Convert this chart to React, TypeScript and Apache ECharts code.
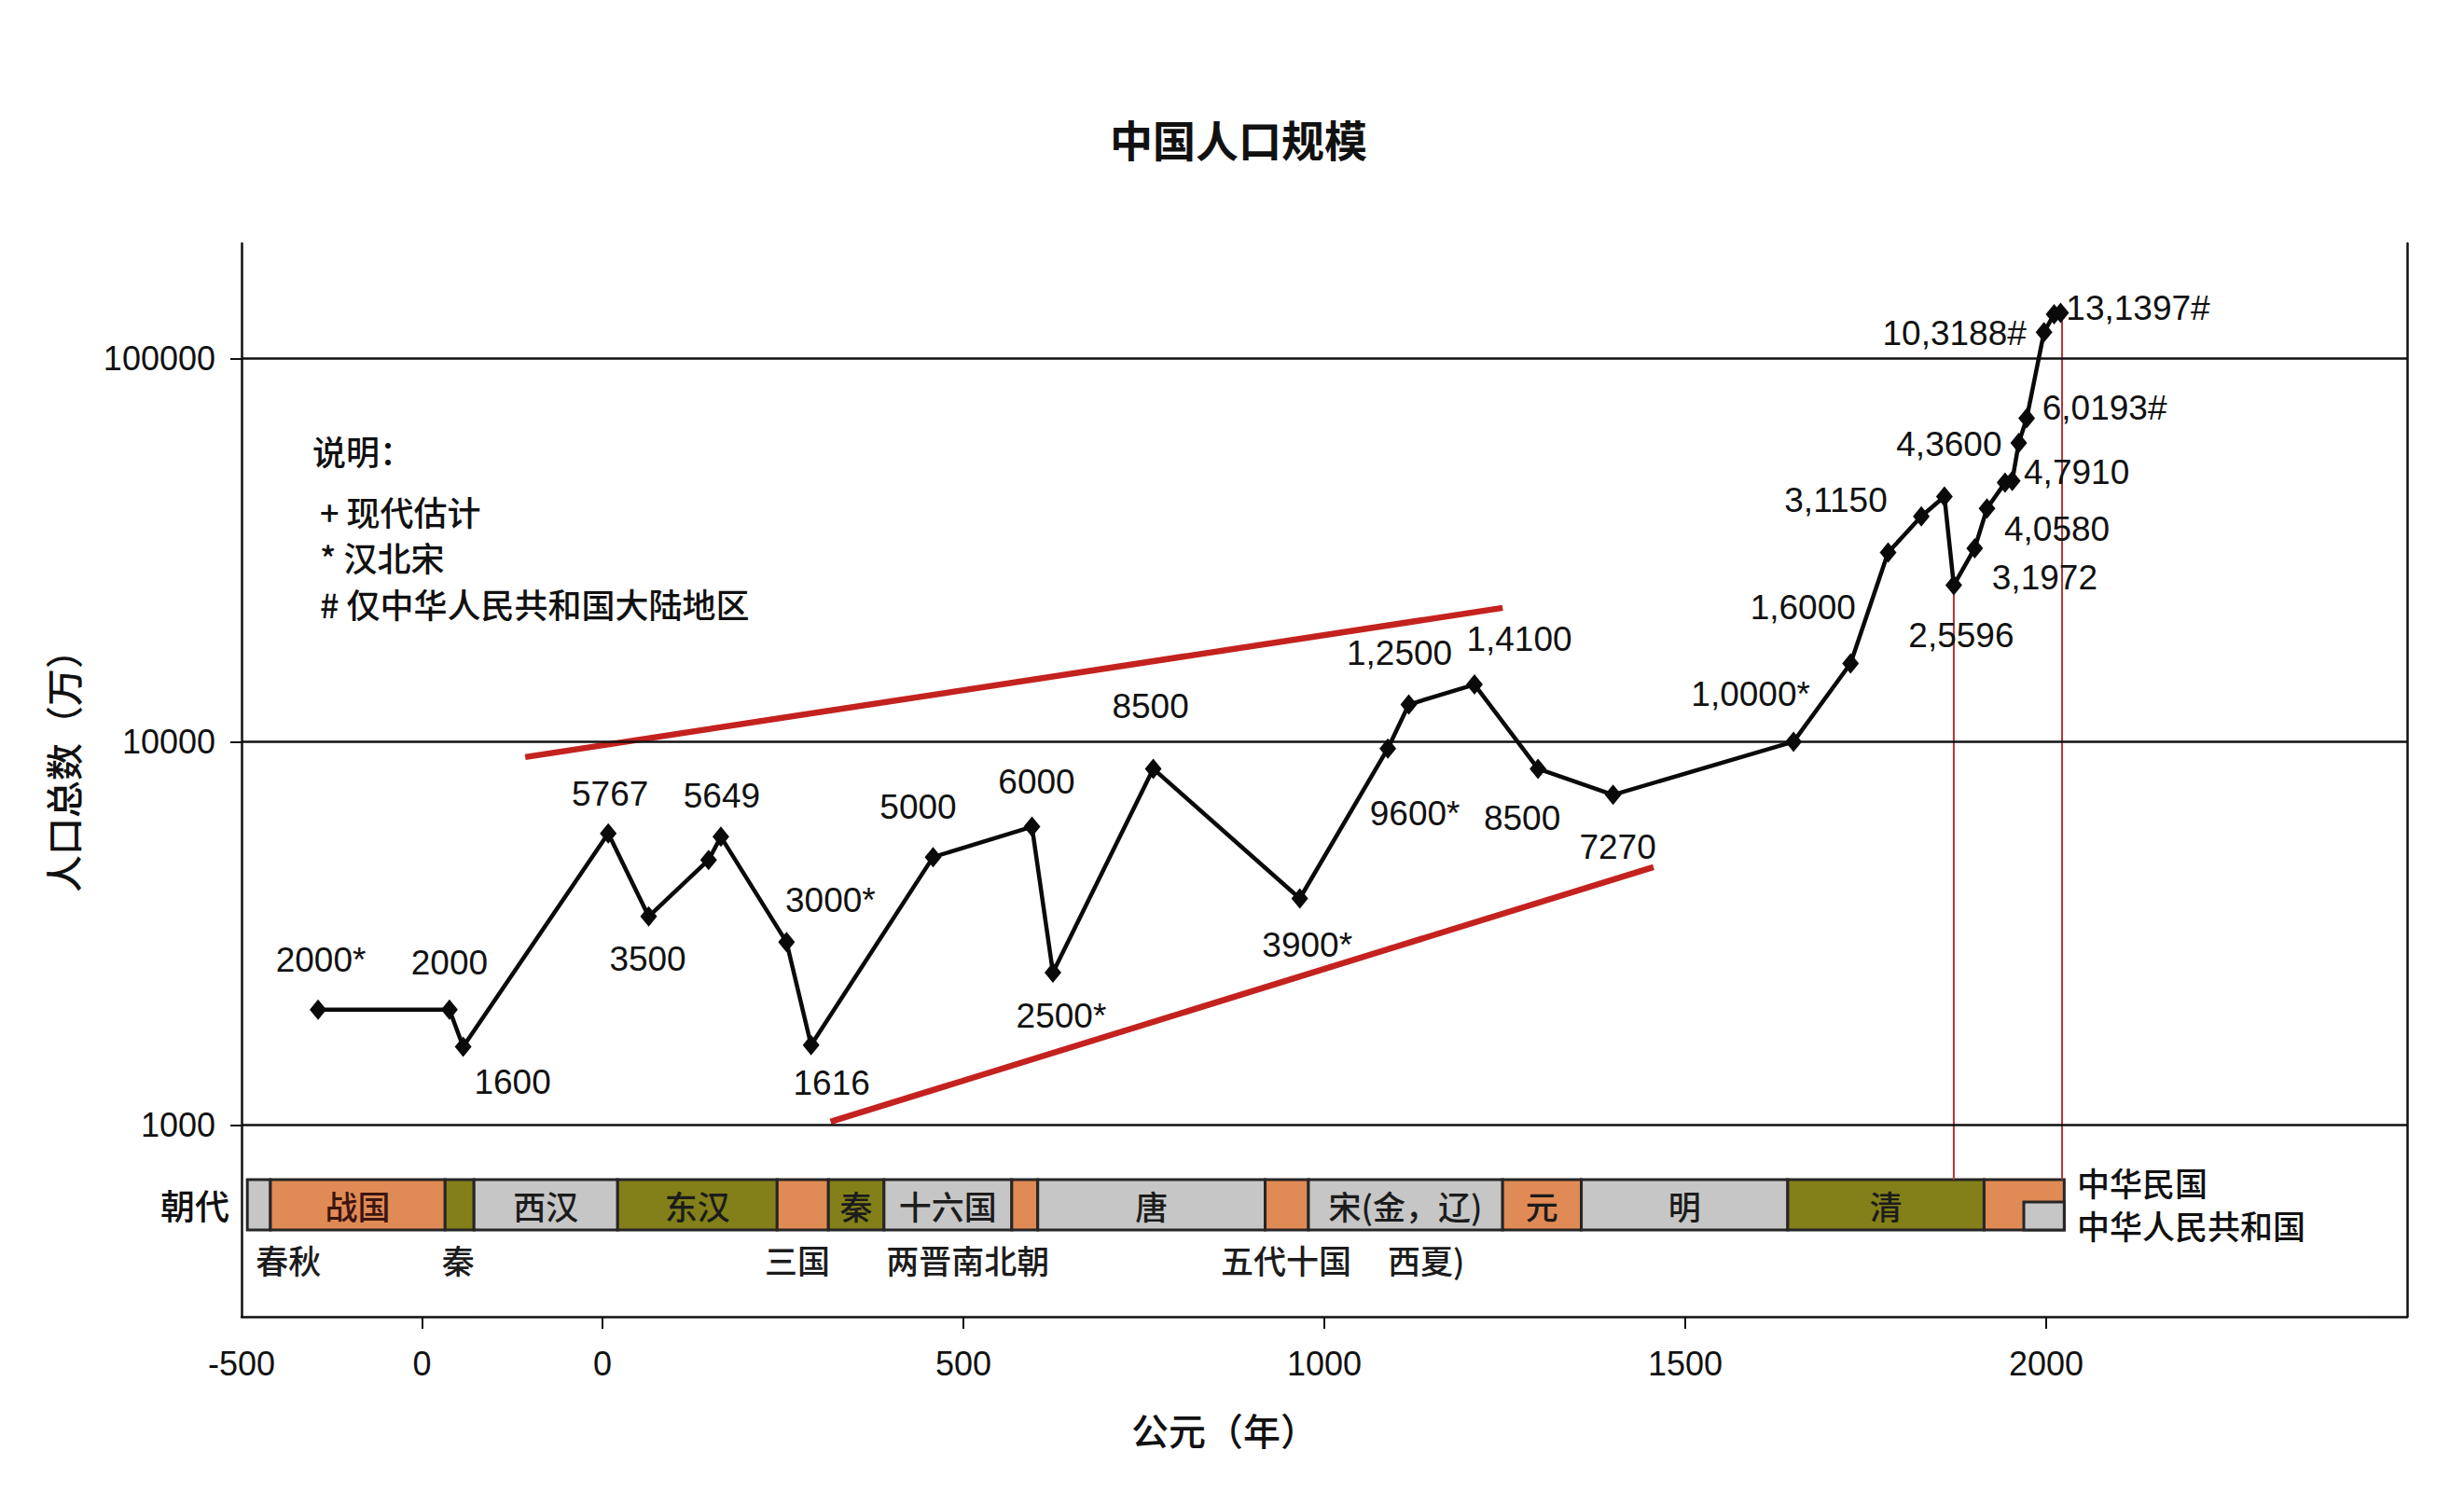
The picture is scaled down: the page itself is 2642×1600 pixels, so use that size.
import React, { useEffect, useRef } from "react";
import * as echarts from "echarts";

// ---------------- data ----------------
const years = [-394, -212, -193, 8, 64, 147, 164, 255, 289, 458, 595, 624, 763, 966, 1088, 1117, 1208, 1296, 1400, 1650, 1729, 1781, 1827, 1859, 1872, 1901, 1918, 1943, 1953, 1962, 1973, 1997, 2011, 2020];
const population = [2000, 2000, 1600, 5767, 3500, 4915, 5649, 3000, 1616, 5000, 6000, 2500, 8500, 3900, 9600, 12500, 14100, 8500, 7270, 10000, 16000, 31150, 38700, 43600, 25596, 31972, 40580, 47400, 47910, 60193, 69760, 117000, 130400, 131397];
const pointLabels = ["2000*", "2000", "1600", "5767", "3500", "", "5649", "3000*", "1616", "5000", "6000", "2500*", "8500", "3900*", "9600*", "1,2500", "1,4100", "8500", "7270", "1,0000*", "1,6000", "3,1150", "", "4,3600", "2,5596", "3,1972", "4,0580", "", "4,7910", "6,0193#", "", "10,3188#", "", "13,1397#"];

const trendUpper = [[-107, 9120], [1247, 22340]];
const trendLower = [[316, 1020], [1456, 4710]];

const verticalYears = [1872, 2022];
const verticalTopPop = [25596, 131397];

const dynastyStart = [-492, -460, -218, -178, 21, 242, 313, 390, 567, 603, 918, 978, 1247, 1356, 1642, 1914];
const dynastyEnd = [-460, -218, -178, 21, 242, 313, 390, 567, 603, 918, 978, 1247, 1356, 1642, 1914, 2025];
const dynastyNames = ["", "战国", "", "西汉", "东汉", "", "秦", "十六国", "", "唐", "", "宋(金，辽)", "元", "明", "清", ""];
const dynastyKinds = ["g", "o", "v", "g", "v", "o", "v", "g", "o", "g", "o", "g", "o", "g", "v", "o"];
const prcStart = 1969;
const prcEnd = 2025;

const belowNames = ["春秋", "秦", "三国", "两晋南北朝", "五代十国", "西夏)"];
const belowYears = [-435, -200, 270, 506, 947, 1141];

const xTickValues = [-500, -250, 0, 500, 1000, 1500, 2000];
const xTickLabels = ["-500", "0", "0", "500", "1000", "1500", "2000"];
const xTickMarks = [-250, 0, 500, 1000, 1500, 2000];
const yTickPowers = [3, 4, 5];
const yTickLabels = ["1000", "10000", "100000"];

const legendLines = ["说明：", "+ 现代估计", "* 汉北宋", "# 仅中华人民共和国大陆地区"];

// ---------------- styles / layout ----------------
const labelOffsets: Record<number, [number, number]> = {
  0: [3, -53], 1: [0, -50], 2: [53, 38], 3: [2, -42], 4: [-1, 46], 6: [1, -44],
  7: [47, -45], 8: [22, 41], 9: [-16, -54], 10: [5, -48], 11: [9, 47], 12: [-3, -67],
  13: [8, 50], 14: [29, 70], 15: [-10, -55], 16: [48, -49], 17: [-17, 53], 18: [5, 56],
  19: [-46, -51], 20: [-51, -60], 21: [-56, -56], 23: [5, -56], 24: [8, 54], 25: [75, 32],
  26: [75, 22], 28: [69, -9], 29: [92, -37], 31: [-96, 1], 33: [83, -5],
};

const NUM_FONT = '"Liberation Sans", Arial, sans-serif';
const CJK_FONT = '"Noto Sans CJK SC", "Noto Sans", sans-serif';
const KIND_COLORS: Record<string, string> = { g: "#c6c6c6", o: "#e08a55", v: "#838019" };
const BAR_TOP = 2.8577;
const BAR_BOTTOM = 2.7263;
const PRC_TOP = 2.7993;
const BELOW_Y = 2.6484;
const Y_MIN = 2.5;
const Y_MAX = 5.3;

const lg = (v: number) => Math.log10(v);

export default function App() {
  const ref = useRef<HTMLDivElement>(null);

  useEffect(() => {
    document.body.style.margin = "0";
    if (!ref.current) return;
    const chart = echarts.init(ref.current, undefined, { renderer: "svg" });

    const mainData = years.map((y, i) => {
      const text = pointLabels[i];
      const off = labelOffsets[i] || [0, 0];
      return {
        value: [y, lg(population[i])],
        label: text
          ? { show: true, formatter: text, position: "inside", offset: off }
          : { show: false },
      };
    });

    const verticalSeries = verticalYears.map((yr, i) => ({
      type: "line",
      data: [
        [yr, lg(verticalTopPop[i])],
        [yr, BAR_TOP],
      ],
      symbol: "none",
      lineStyle: { color: "#b23535", width: 2 },
      z: 3,
      silent: true,
    }));

    const trendSeries = [trendUpper, trendLower].map((t, k) => ({
      type: "line",
      data: t.map((p) => [p[0], lg(p[1])]),
      symbol: "none",
      lineStyle: { color: "#c4221f", width: 6.5 },
      z: 3,
      silent: true,
      markLine:
        k === 0
          ? {
              silent: true,
              symbol: "none",
              label: { show: false },
              lineStyle: { color: "#111", width: 2.5, type: "solid" },
              data: yTickPowers.map((p) => ({ yAxis: p })),
            }
          : undefined,
    }));

    const dynastySeries = {
      type: "custom",
      z: 2,
      silent: true,
      data: dynastyStart.map((s, i) => [s, dynastyEnd[i], i]),
      encode: { x: [0, 1], y: 2 },
      renderItem: (params: any, api: any) => {
        const i = api.value(2);
        const p0 = api.coord([api.value(0), BAR_TOP]);
        const p1 = api.coord([api.value(1), BAR_BOTTOM]);
        const children: any[] = [
          {
            type: "rect",
            shape: { x: p0[0], y: p0[1], width: p1[0] - p0[0], height: p1[1] - p0[1] },
            style: { fill: KIND_COLORS[dynastyKinds[i]], stroke: "#262626", lineWidth: 3 },
          },
        ];
        if (dynastyNames[i]) {
          children.push({
            type: "text",
            x: (p0[0] + p1[0]) / 2,
            y: (p0[1] + p1[1]) / 2 + 1,
            style: {
              text: dynastyNames[i],
              fill: i === 1 ? "#3b1510" : "#1c1c1c",
              fontSize: 35,
              fontWeight: 500,
              fontFamily: CJK_FONT,
              align: "center",
              verticalAlign: "middle",
            },
          });
        }
        if (i === dynastyStart.length - 1) {
          const q0 = api.coord([prcStart, PRC_TOP]);
          const q1 = api.coord([prcEnd, BAR_BOTTOM]);
          children.push({
            type: "rect",
            shape: { x: q0[0], y: q0[1], width: q1[0] - q0[0], height: q1[1] - q0[1] },
            style: { fill: KIND_COLORS.g, stroke: "#262626", lineWidth: 3 },
          });
        }
        return { type: "group", children };
      },
    };

    const belowSeries = {
      type: "custom",
      z: 2,
      silent: true,
      data: belowYears.map((y, i) => [y, i]),
      encode: { x: 0, y: 1 },
      renderItem: (params: any, api: any) => {
        const i = api.value(1);
        const p = api.coord([api.value(0), BELOW_Y]);
        return {
          type: "text",
          x: p[0],
          y: p[1],
          style: {
            text: belowNames[i],
            fill: "#1c1c1c",
            fontSize: 35,
            fontWeight: 500,
            fontFamily: CJK_FONT,
            align: "center",
            verticalAlign: "middle",
          },
        };
      },
    };

    const mainSeries = {
      type: "line",
      data: mainData,
      symbol: "diamond",
      symbolSize: [18, 22],
      itemStyle: { color: "#0a0a0a" },
      lineStyle: { color: "#0a0a0a", width: 4.5 },
      label: {
        fontSize: 37,
        fontFamily: NUM_FONT,
        color: "#111",
      },
      z: 5,
      silent: true,
    };

    const textBase = { fill: "#111", fontFamily: CJK_FONT };
    const legendY = [483, 548, 597, 647];
    const legendX = [335, 343, 343, 343];

    const option: any = {
      animation: false,
      backgroundColor: "#ffffff",
      textStyle: { fontFamily: NUM_FONT },
      grid: { left: 259, right: 61, top: 261, bottom: 188, containLabel: false },
      xAxis: {
        type: "value",
        min: -500,
        max: 2500,
        axisLine: { show: true, onZero: false, lineStyle: { color: "#111", width: 2.5 } },
        axisTick: { show: true, customValues: xTickMarks, length: 13, lineStyle: { color: "#111", width: 2 } },
        axisLabel: {
          customValues: xTickValues,
          formatter: (v: number) => {
            const k = xTickValues.indexOf(Math.round(v));
            return k >= 0 ? xTickLabels[k] : "";
          },
          fontSize: 36,
          fontFamily: NUM_FONT,
          color: "#111",
          margin: 32,
        },
        splitLine: { show: false },
      },
      yAxis: [
        {
          type: "value",
          min: Y_MIN,
          max: Y_MAX,
          axisLine: { show: true, onZero: false, lineStyle: { color: "#111", width: 2.5 } },
          axisTick: { show: true, customValues: yTickPowers, length: 12, lineStyle: { color: "#111", width: 2 } },
          axisLabel: {
            customValues: yTickPowers,
            formatter: (v: number) => {
              const k = yTickPowers.indexOf(Math.round(v));
              return k >= 0 ? yTickLabels[k] : "";
            },
            fontSize: 36,
            fontFamily: NUM_FONT,
            color: "#111",
            margin: 28,
          },
          splitLine: { show: false },
        },
        {
          type: "value",
          position: "right",
          min: Y_MIN,
          max: Y_MAX,
          axisLine: { show: true, onZero: false, lineStyle: { color: "#111", width: 2.5 } },
          axisTick: { show: false },
          axisLabel: { show: false },
          splitLine: { show: false },
        },
      ],
      series: [dynastySeries, belowSeries, ...trendSeries, ...verticalSeries, mainSeries],
      graphic: [
        {
          type: "text",
          x: 1328,
          y: 148,
          style: { ...textBase, text: "中国人口规模", fontSize: 46, fontWeight: "bold", align: "center", verticalAlign: "middle" },
        },
        ...legendLines.map((t, i) => ({
          type: "text",
          x: legendX[i],
          y: legendY[i],
          style: { ...textBase, text: t, fontSize: 36, fontWeight: 500, align: "left", verticalAlign: "middle" },
        })),
        {
          type: "text",
          x: 67,
          y: 817,
          rotation: Math.PI / 2,
          style: { ...textBase, text: "人口总数（万）", fontSize: 40, fontWeight: 500, align: "center", verticalAlign: "middle" },
        },
        {
          type: "text",
          x: 1313,
          y: 1533,
          style: { ...textBase, text: "公元（年）", fontSize: 40, fontWeight: 500, align: "center", verticalAlign: "middle" },
        },
        {
          type: "text",
          x: 246,
          y: 1292,
          style: { ...textBase, text: "朝代", fontSize: 37, fontWeight: 500, align: "right", verticalAlign: "middle" },
        },
        {
          type: "text",
          x: 2227,
          y: 1267,
          style: { ...textBase, text: "中华民国", fontSize: 35, fontWeight: 500, align: "left", verticalAlign: "middle" },
        },
        {
          type: "text",
          x: 2227,
          y: 1313,
          style: { ...textBase, text: "中华人民共和国", fontSize: 35, fontWeight: 500, align: "left", verticalAlign: "middle" },
        },
      ],
    };

    chart.setOption(option);
    return () => chart.dispose();
  }, []);

  return <div ref={ref} style={{ width: "2642px", height: "1600px" }} />;
}
